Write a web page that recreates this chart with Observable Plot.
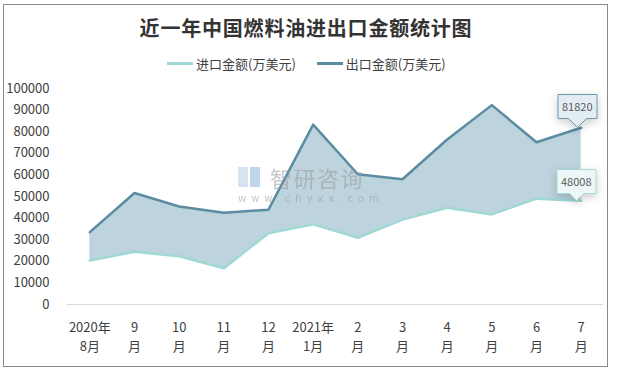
<!DOCTYPE html>
<html>
<head>
<meta charset="utf-8">
<script src="https://cdn.jsdelivr.net/npm/d3@7"></script>
<script src="https://cdn.jsdelivr.net/npm/@observablehq/plot@0.6"></script>
<style>
  html, body { margin: 0; padding: 0; background: #fff; }
  #wrap { position: relative; width: 617px; height: 371px; overflow: hidden; font-family: "Noto Sans CJK SC", "Noto Sans", sans-serif; }
  #frame { position: absolute; left: 3px; top: 4px; width: 605px; height: 363px; border: 1px solid #898989; box-sizing: border-box; }
  #title { position: absolute; left: 0; top: 14px; width: 612px; text-align: center; font-size: 20px; font-weight: bold; letter-spacing: 0.8px; color: #333; line-height: 28px; }
  #legend { position: absolute; left: 167px; top: 53px; height: 20px; display: flex; align-items: center; font-size: 13px; color: #404040; }
  .sw { display: inline-block; width: 26px; height: 3px; margin-right: 3px; }
  .item { display: flex; align-items: center; margin-right: 21px; }
  #chart { position: absolute; left: 0; top: 75px; }
  #wm { position: absolute; left: 238px; top: 166px; pointer-events: none; opacity: 0.55; }
  #wm .big { position: absolute; left: 32px; top: 0px; font-size: 22px; line-height: 22px; color: #9a9a9a; letter-spacing: 1.5px; white-space: nowrap; }
  #wm .small { position: absolute; left: 0px; top: 28px; font-size: 10px; line-height: 10px; color: #9a9a9a; letter-spacing: 5px; white-space: nowrap; font-family: "DejaVu Sans", sans-serif; }
  #wm .b1 { position: absolute; left: 0; top: 1px; width: 10px; height: 20px; background: #b8cde3; }
  #wm .b2 { position: absolute; left: 12px; top: 1px; width: 10px; height: 20px; background: #8fb6e0; }
</style>
</head>
<body>
<div id="wrap">
  <div id="frame"></div>
  <div id="title">近一年中国燃料油进出口金额统计图</div>
  <div id="legend"></div>
  <div id="chart"></div>
</div>
<script>
// ---- data ----
const monthLabels = ["2020年\n8月", "9\n月", "10\n月", "11\n月", "12\n月", "2021年\n1月", "2\n月", "3\n月", "4\n月", "5\n月", "6\n月", "7\n月"];
const importValues = [20400, 24400, 22300, 16800, 33000, 37100, 30900, 39300, 44800, 41700, 49000, 48008];
const exportValues = [33500, 51600, 45400, 42500, 43900, 83300, 60300, 58000, 76400, 92300, 75100, 81820];
const yTicks = [0, 10000, 20000, 30000, 40000, 50000, 60000, 70000, 80000, 90000, 100000];
const seriesNames = ["进口金额(万美元)", "出口金额(万美元)"];
const seriesColors = ["#9fd8d5", "#5b8ca2"];

const rows = monthLabels.map((m, i) => ({i, m, imp: importValues[i], exp: exportValues[i]}));
const lastRow = [rows[rows.length - 1]];

// legend
const legend = document.getElementById("legend");
seriesNames.forEach((n, k) => {
  const it = document.createElement("div");
  it.className = "item";
  it.innerHTML = `<span class="sw" style="background:${seriesColors[k]}"></span><span>${n}</span>`;
  legend.appendChild(it);
});

const font = '"Noto Sans CJK SC", "Noto Sans", sans-serif';
const marks = [
  Plot.ruleY([0], {stroke: "#d9d9d9", strokeWidth: 1}),
  Plot.areaY(rows, {x: "i", y1: "imp", y2: "exp", fill: "#bdd3dd"}),
  Plot.lineY(rows, {x: "i", y: "imp", stroke: seriesColors[0], strokeWidth: 2.5}),
  Plot.lineY(rows, {x: "i", y: "exp", stroke: seriesColors[1], strokeWidth: 2.5}),
  Plot.axisY({ticks: yTicks, tickSize: 0, tickPadding: 18, tickFormat: d => String(d), label: null, fontSize: 13}),
  Plot.axisX({ticks: rows.map(r => r.i), tickSize: 0, tickPadding: 14, tickFormat: i => monthLabels[i], label: null, lineHeight: 1.45, fontSize: 13})
];
if (Plot.tip) {
  marks.push(
    Plot.tip(lastRow, {x: "i", y: "exp", title: d => String(d.exp), anchor: "bottom", pointerSize: 18, dx: -4,
      fill: "#e4edf2", stroke: "#6e98ad", fontSize: 11, textPadding: 4, fontFamily: font}),
    Plot.tip(lastRow, {x: "i", y: "imp", title: d => String(d.imp), anchor: "bottom", pointerSize: 14, dx: -5,
      fill: "#edf7f7", stroke: "#a6dcd8", fontSize: 11, textPadding: 4, fontFamily: font})
  );
} else {
  marks.push(
    Plot.text(lastRow, {x: "i", y: "exp", text: d => String(d.exp), dy: -27, fill: "#595959", fontSize: 11}),
    Plot.text(lastRow, {x: "i", y: "imp", text: d => String(d.imp), dy: -23, fill: "#595959", fontSize: 11})
  );
}

const chart = Plot.plot({
  width: 617,
  height: 290,
  marginLeft: 67,
  marginRight: 14,
  marginTop: 13,
  marginBottom: 61,
  style: {fontFamily: font, fontSize: "13px", color: "#404040", background: "transparent", overflow: "visible"},
  x: {type: "linear", domain: [-0.5, 11.5]},
  y: {domain: [0, 100000]},
  marks
});
chart.querySelectorAll('g[aria-label="tip"] text').forEach(t => { t.setAttribute("fill", "#595959"); t.style.fill = "#595959"; });
document.getElementById("chart").appendChild(chart);

// watermark
const wm = document.createElement("div");
wm.id = "wm";
wm.innerHTML = '<div class="b1"></div><div class="b2"></div><div class="big">智研咨询</div><div class="small">www.chyxx.com</div>';
document.getElementById("wrap").appendChild(wm);
</script>
</body>
</html>
